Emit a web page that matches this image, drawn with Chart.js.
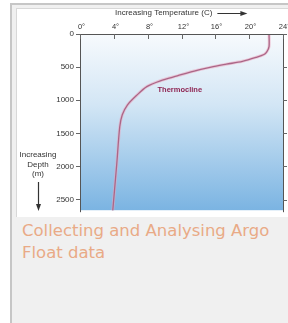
<!DOCTYPE html>
<html>
<head>
<meta charset="utf-8">
<script src="https://cdn.jsdelivr.net/npm/chart.js@4/dist/chart.umd.min.js"></script>
<style>
  html, body { margin:0; padding:0; background:#ffffff; width:288px; height:323px; overflow:hidden; }
  #card { position:absolute; left:10px; top:3px; width:290px; height:340px; box-sizing:border-box;
          border:2px solid #c6c6c6; background:#f0f0f0; }
  #img { position:absolute; left:16px; top:8px; width:275px; height:209px; background:#ffffff;
         border-left:1px solid #d8d8d8; border-top:1px solid #d8d8d8; box-sizing:border-box; }
  #c { position:absolute; left:16px; top:8px; }
  #caption { position:absolute; left:22px; top:220px; width:264px; font-family:"DejaVu Sans", Verdana, sans-serif;
             font-size:16.5px; line-height:22px; color:#e9aa86; white-space:nowrap; }
</style>
</head>
<body>
<div id="card"></div>
<div id="img"></div>
<canvas id="c" width="272" height="209"></canvas>
<div id="caption">Collecting and Analysing Argo<br>Float data</div>
<script>
// Temperature profile
const depths = [0, 191, 265, 309, 353, 412, 456, 500, 559, 632, 706, 794, 926, 1073, 1220, 1400, 1955, 2700];
const temps  = [22.35, 22.35, 22.1, 21.75, 20.8, 19.2, 17.3, 15.5, 13.5, 11.5, 9.5, 7.9, 6.7, 5.6, 5.0, 4.7, 4.35, 3.85];
const tempTicks = [0, 4, 8, 12, 16, 20, 24];
const depthTicks = [0, 500, 1000, 1500, 2000, 2500];
const xTitle = "Increasing Temperature (C)";
const yTitleLines = ["Increasing", "Depth", "(m)"];
const curveLabel = "Thermocline";

const points = depths.map((d, i) => ({ x: temps[i], y: d }));
const FONT = '"Liberation Sans", Arial, sans-serif';

const deco = {
  id: 'deco',
  beforeDatasetsDraw(chart) {
    const { ctx, chartArea: a } = chart;
    const g = ctx.createLinearGradient(0, a.top, 0, a.bottom);
    g.addColorStop(0, '#f7fafd');
    g.addColorStop(0.4, '#d3e6f5');
    g.addColorStop(1, '#7bb4e2');
    ctx.save();
    ctx.fillStyle = g;
    ctx.fillRect(a.left, a.top, a.right - a.left, a.bottom - a.top);
    ctx.restore();
  },
  afterDraw(chart) {
    const { ctx, chartArea: a, scales } = chart;
    const xs = scales.x, ys = scales.y;
    ctx.save();
    // frame
    ctx.strokeStyle = '#555';
    ctx.lineWidth = 1;
    ctx.beginPath();
    ctx.moveTo(a.left + 0.5, a.bottom + 2);
    ctx.lineTo(a.left + 0.5, a.top + 0.5);
    ctx.lineTo(a.right + 0.5, a.top + 0.5);
    ctx.lineTo(a.right + 0.5, a.bottom + 2);
    ctx.stroke();
    // x ticks inside pointing down + labels above
    ctx.strokeStyle = '#666';
    ctx.fillStyle = '#333';
    ctx.font = '7.5px ' + FONT;
    ctx.textAlign = 'center';
    ctx.textBaseline = 'middle';
    tempTicks.forEach(t => {
      const px = Math.round(xs.getPixelForValue(t)) + 0.5;
      ctx.beginPath(); ctx.moveTo(px, a.top); ctx.lineTo(px, a.top + 5); ctx.stroke();
      ctx.fillText(t + '°', px + 1, a.top - 7);
    });
    // right-side ticks outward
    depthTicks.forEach(d => {
      const py = Math.round(ys.getPixelForValue(d)) + 0.5;
      ctx.beginPath(); ctx.moveTo(a.right, py); ctx.lineTo(a.right + 4, py); ctx.stroke();
    });
    // top title with arrow
    ctx.fillStyle = '#333';
    ctx.font = '8px ' + FONT;
    ctx.textAlign = 'left';
    const tx = 99, ty = 5;
    ctx.fillText(xTitle, tx, ty);
    const w = ctx.measureText(xTitle).width;
    ctx.strokeStyle = '#333';
    ctx.lineWidth = 1;
    ctx.beginPath(); ctx.moveTo(tx + w + 5, ty + 0.5); ctx.lineTo(tx + w + 30, ty + 0.5); ctx.stroke();
    ctx.beginPath(); ctx.moveTo(tx + w + 35, ty + 0.5); ctx.lineTo(tx + w + 28, ty - 2); ctx.lineTo(tx + w + 28, ty + 3); ctx.closePath(); ctx.fill();
    // y title
    ctx.textAlign = 'center';
    yTitleLines.forEach((s, i) => ctx.fillText(s, 22, 147 + i * 9.5));
    ctx.beginPath(); ctx.moveTo(22.5, 174); ctx.lineTo(22.5, 198); ctx.lineWidth = 1.2; ctx.stroke();
    ctx.beginPath(); ctx.moveTo(22.5, 203); ctx.lineTo(20, 196); ctx.lineTo(25, 196); ctx.closePath(); ctx.fill();
    // thermocline label
    ctx.fillStyle = '#8e2452';
    ctx.font = 'bold 7.5px ' + FONT;
    ctx.fillText(curveLabel, xs.getPixelForValue(11.8), ys.getPixelForValue(850));
    ctx.restore();
  }
};

new Chart(document.getElementById('c'), {
  type: 'scatter',
  data: {
    datasets: [
      { data: points, showLine: true, borderColor: 'rgba(235,165,190,0.55)', borderWidth: 3, pointRadius: 0, tension: 0.3, fill: false },
      { data: points, showLine: true, borderColor: '#5e1a46', borderWidth: 1.3, pointRadius: 0, tension: 0.3, fill: false }
    ]
  },
  options: {
    responsive: false,
    animation: false,
    devicePixelRatio: 1,
    layout: { padding: { right: 5, bottom: 2, top: 0, left: 0 } },
    plugins: { legend: { display: false }, tooltip: { enabled: false } },
    scales: {
      x: {
        type: 'linear', position: 'top', min: 0, max: 24,
        afterBuildTicks: s => { s.ticks = tempTicks.map(v => ({ value: v })); },
        afterFit: s => { s.height = 26; },
        grid: { display: false },
        border: { display: false },
        ticks: { display: false }
      },
      y: {
        type: 'linear', reverse: true, min: 0, max: 2660,
        afterBuildTicks: s => { s.ticks = depthTicks.map(v => ({ value: v })); },
        afterFit: s => { s.width = 64; },
        grid: { drawOnChartArea: false, tickLength: 4, color: '#666' },
        border: { display: false },
        ticks: { callback: v => String(v), font: { size: 8, family: FONT }, color: '#333', padding: 2 }
      }
    }
  },
  plugins: [deco]
});
</script>
</body>
</html>
